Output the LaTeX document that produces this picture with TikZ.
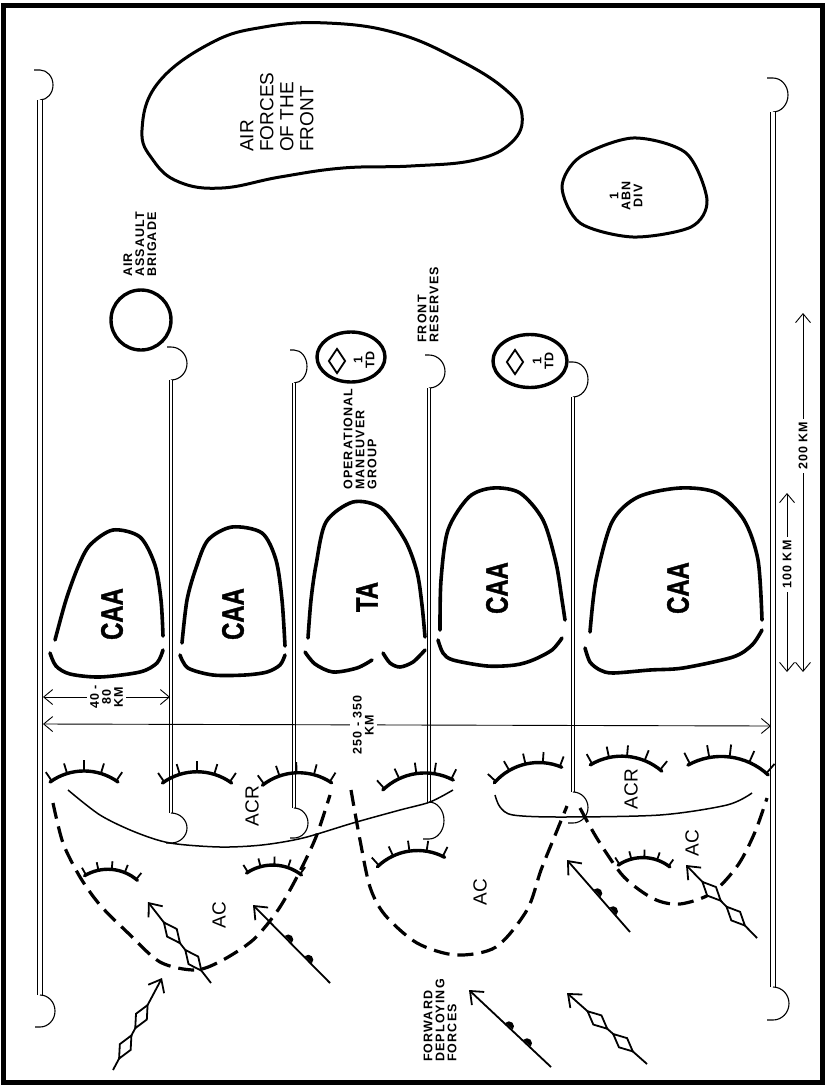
\documentclass[tikz,border=0pt]{standalone}
\usepackage{fontspec}
\setmainfont{Liberation Sans}
\newfontfamily\armyfont[FakeStretch=0.77,FakeBold=1.2]{Liberation Sans}
\newfontfamily\tagfont[LetterSpace=9]{Liberation Sans}
\usetikzlibrary{positioning}
\usetikzlibrary{arrows.meta}
\usetikzlibrary{shapes.geometric}

\begin{document}
\begin{tikzpicture}
  [x=1pt, y=-1pt,
   bound/.style={double, double distance=2.6pt, line width=0.9pt},
   edgebound/.style={double, double distance=3.6pt, line width=1pt},
   hook/.style={line width=1.1pt},
   army/.style={line width=3.6pt, line cap=round},
   acr/.style={line width=1.5pt},
   ac/.style={line width=3.2pt, dash pattern=on 16pt off 8pt},
   fwd/.style={line width=1.8pt, arrows={-Straight Barb[length=11pt,width=18pt]}},
   link/.style={draw, diamond, sloped, fill=white, minimum width=27pt, minimum height=13pt, inner sep=0pt, line width=1.8pt},
   ball/.style={semicircle, fill, sloped, anchor=chord center, inner sep=0pt, minimum width=10pt},
   dim/.style={line width=0.9pt, arrows={Straight Barb[length=9pt,width=15pt]-Straight Barb[length=9pt,width=15pt]}},
   ovl/.style={draw, ellipse, line width=3.4pt, inner sep=0pt},
   tdsym/.style={draw, diamond, line width=1.8pt, inner sep=0pt, minimum width=17pt, minimum height=25pt},
   armylabel/.style={font=\armyfont\bfseries\fontsize{31}{31}\selectfont, rotate=90, inner sep=0pt},
   big/.style={font=\fontsize{19}{20}\selectfont, rotate=90, inner sep=0pt},
   tag/.style={font=\tagfont\bfseries\fontsize{12.5}{12}\selectfont, rotate=90, inner sep=0pt},
   dimlabel/.style={tag, fill=white, align=center, inner sep=3pt},
   fort/.pic={
     \draw[line width=3.4pt, line cap=round] (-32.3,0) arc (234:306:55);
     \foreach \t in {236,253,270,287,304}
       \draw[line width=1.8pt] (0,44.5) ++(\t:55) -- ++(\t:10);
   }]
  \useasboundingbox (0,0) rectangle (827,1092);
  \draw[line width=5pt] (3,5) rectangle (822,1082);

  % front boundaries
  \draw[hook] (34,70) -- (40,70) arc (-90:90:13 and 15);
  \draw[edgebound] (40,100) -- (40,995);
  \draw[hook] (40,995) arc (-90:90:15 and 16) -- (35,1027);
  \draw[hook] (767,78) -- (773,78) arc (-90:90:15 and 17);
  \draw[edgebound] (773,112) -- (773,987);
  \draw[hook] (773,987) arc (-90:90:16 and 16.5) -- (767,1020);

  % army boundaries
  \draw[hook] (167,347) -- (171,347) arc (-90:90:16 and 16.5);
  \draw[bound] (171,380) -- (171,813);
  \draw[hook] (171,813) arc (-90:90:16 and 15) -- (166,843);
  \draw[hook] (290,350) -- (294,350) arc (-90:90:13 and 16.5);
  \draw[bound] (294,383) -- (294,808);
  \draw[hook] (294,808) arc (-90:90:14 and 15) -- (290,838);
  \draw[hook] (425,355) -- (429,355) arc (-90:90:16 and 16.5);
  \draw[bound] (429,388) -- (429,802);
  \draw[hook] (429,802) arc (-90:90:15 and 18.5) -- (423,839);
  \draw[hook] (569,362) -- (573,362) arc (-90:90:15 and 17.5);
  \draw[bound] (573,397) -- (573,792);
  \draw[hook] (573,792) arc (-90:90:15 and 15.5) -- (568,823);

  % air forces and airborne
  \draw[line width=3pt] plot[smooth cycle, tension=0.7] coordinates {(142,130) (158,83) (211,43) (264,27) (327,23) (396,33) (459,60) (506,90) (522,115) (512,142) (475,160) (411,166) (343,168) (280,177) (222,188) (179,182) (153,160)};
  \node[big, align=left, anchor=west] (airf) at (277,152) {AIR\\FORCES\\OF THE\\FRONT};
  \draw[line width=3pt] plot[smooth cycle] coordinates {(633,138) (580,157) (562,187) (580,223) (633,237) (691,227) (707,200) (686,153)};
  \node[tag, align=center] (abn) at (626,196) {1\\ABN\\DIV};
  \node[tag, align=left, anchor=west] (aab) at (140,277) {AIR\\ASSAULT\\BRIGADE};
  \node[ovl, minimum width=60pt, minimum height=60pt] (aabc) at (141,320) {};

  % reserves
  \node[ovl, minimum width=68pt, minimum height=50pt] (omg) at (351,357) {};
  \node[tdsym] (omgd) at (337,361) {};
  \node[tag, align=center] (omgt) at (364,360) {1\\TD};
  \node[tag, align=left, anchor=west] (omgl) at (360,490) {OPERATIONAL\\MANEUVER\\GROUP};
  \node[tag, align=left, anchor=west] (frl) at (428,343) {FRONT\\RESERVES};
  \node[ovl, minimum width=74pt, minimum height=53pt] (frr) at (530,361) {};
  \node[tdsym] (frrd) at (515,362) {};
  \node[tag, align=center] (frrt) at (543,361) {1\\TD};

  % armies
  \draw[army] plot[smooth] coordinates {(55,640) (66,600) (78,567) (90,545) (113,530) (140,537) (155,565) (161,600) (163,636)};
  \draw[army] plot[smooth] coordinates {(50,653) (56,666) (70,674) (100,677) (140,672) (157,663) (163,650)};
  \node[armylabel] (caa1) at (112,614) {CAA};
  \draw[army] plot[smooth] coordinates {(182,643) (187,600) (196,568) (208,540) (232,527) (262,533) (276,560) (282,600) (285,646)};
  \draw[army] plot[smooth] coordinates {(180,655) (188,668) (213,675) (245,675) (267,672) (280,665) (285,655)};
  \node[armylabel] (caa2) at (233,614) {CAA};
  \draw[army] plot[smooth] coordinates {(308,638) (311,600) (316,565) (326,522) (353,502) (381,508) (405,540) (417,572) (422,605) (425,637)};
  \draw[army] plot[smooth] coordinates {(305,652) (315,664) (333,672) (357,668) (372,660)};
  \draw[army] plot[smooth] coordinates {(383,653) (390,663) (400,667) (413,662) (425,650)};
  \node[armylabel] (ta) at (367,597) {TA};
  \draw[army] plot[smooth] coordinates {(440,630) (441,580) (448,530) (469,497) (493,488) (520,493) (543,520) (556,563) (562,600) (565,620)};
  \draw[army] plot[smooth] coordinates {(438,640) (443,653) (453,660) (487,666) (515,665) (533,660) (552,650) (562,638)};
  \node[armylabel] (caa3) at (497,588) {CAA};
  \draw[army] plot[smooth] coordinates {(590,632) (596,580) (612,522) (638,497) (680,488) (717,493) (744,520) (758,560) (762,620)};
  \draw[army] plot[smooth] coordinates {(585,648) (590,662) (600,670) (613,673) (650,670) (683,668) (733,657) (752,645) (762,630)};
  \node[armylabel] (caa4) at (678,588) {CAA};

  % widths
  \coordinate (w1l) at (43,697);
  \coordinate (w1r) at (170,697);
  \draw[dim] (w1l) -- (w1r) node[dimlabel, pos=0.5] (w1t) {40 -\\80\\KM};
  \coordinate (w2l) at (43,724);
  \coordinate (w2r) at (771,726);
  \draw[dim] (w2l) -- (w2r) node[dimlabel, pos=0.44] (w2t) {250 - 350\\KM};

  % scale
  \coordinate (s1t) at (787,493);
  \coordinate (s1b) at (787,672);
  \draw[dim] (s1b) -- (s1t) node[dimlabel, pos=0.6] (s1l) {100 KM};
  \coordinate (s2t) at (803,313);
  \coordinate (s2b) at (803,672);
  \draw[dim] (s2b) -- (s2t) node[dimlabel, pos=0.63] (s2l) {200 KM};

  % advanced covering forces
  \pic[scale=1.05] at (84,782) {fort};
  \pic[scale=1.07] at (197,783) {fort};
  \pic[scale=1.07, rotate=2] at (297,784) {fort};
  \pic[scale=1.1, rotate=8] at (418,785) {fort};
  \pic[scale=1.07, rotate=13] at (528,775) {fort};
  \pic[scale=1.11, rotate=-5] at (626,768) {fort};
  \pic[scale=1.25, rotate=-7] at (728,770) {fort};
  \pic[scale=0.82, rotate=-5] at (111,878) {fort};
  \pic[scale=0.85, rotate=-2] at (274,874) {fort};
  \pic[scale=1.05, rotate=8] at (411,862) {fort};
  \pic[scale=0.8, rotate=-2] at (644,866) {fort};

  \draw[acr] plot[smooth] coordinates {(68,790) (100,815) (135,832) (170,843) (220,847) (262,845) (303,838) (353,823) (400,810) (430,802) (453,790)};
  \draw[acr] plot[smooth] coordinates {(495,795) (500,807) (513,815) (560,817) (660,815) (727,805) (752,793)};
  \node[big] (acr1) at (252,806) {ACR};
  \node[big] (acr2) at (631,789) {ACR};

  \draw[ac] plot[smooth] coordinates {(53,803) (63,843) (80,877) (100,905) (127,932) (160,962) (195,970) (221,961) (253,940) (278,910) (298,875) (316,837) (330,795)};
  \draw[ac] plot[smooth] coordinates {(351,790) (360,840) (370,887) (385,915) (417,943) (456,955) (496,947) (527,910) (541,870) (556,833) (567,806)};
  \draw[ac] plot[smooth] coordinates {(580,808) (598,840) (624,877) (654,899) (680,904) (712,893) (738,865) (755,832) (767,798)};
  \node[big] (ac1) at (219,915) {AC};
  \node[big] (ac2) at (480,892) {AC};
  \node[big] (ac3) at (692,843) {AC};

  % forward deploying forces
  \coordinate (a1s) at (113,1070);
  \coordinate (a1e) at (162,978);
  \draw[fwd] (a1s) -- (a1e) node[link, pos=0.25] (a1d1) {} node[link, pos=0.58] (a1d2) {};
  \coordinate (a2s) at (211,983);
  \coordinate (a2e) at (148,902);
  \draw[fwd] (a2s) -- (a2e) node[link, pos=0.28] (a2d1) {} node[link, pos=0.62] (a2d2) {};
  \coordinate (a3s) at (330,983);
  \coordinate (a3e) at (253,905);
  \draw[fwd] (a3s) -- (a3e) node[ball, pos=0.29] (a3b1) {} node[ball, pos=0.55] (a3b2) {};
  \coordinate (a4s) at (551,1067);
  \coordinate (a4e) at (469,990);
  \draw[fwd] (a4s) -- (a4e) node[ball, pos=0.3] (a4b1) {} node[ball, pos=0.52] (a4b2) {};
  \coordinate (a5s) at (647,1064);
  \coordinate (a5e) at (567,993);
  \draw[fwd] (a5s) -- (a5e) node[link, pos=0.3] (a5d1) {} node[link, pos=0.62] (a5d2) {};
  \coordinate (a6s) at (630,932);
  \coordinate (a6e) at (567,860);
  \draw[fwd] (a6s) -- (a6e) node[ball, pos=0.28] (a6b1) {} node[ball, pos=0.53] (a6b2) {};
  \coordinate (a7s) at (757,938);
  \coordinate (a7e) at (686,865);
  \draw[fwd] (a7s) -- (a7e) node[link, pos=0.3] (a7d1) {} node[link, pos=0.64] (a7d2) {};
  \node[tag, align=left, anchor=west] (fdf) at (440,1062) {FORWARD\\DEPLOYING\\FORCES};
\end{tikzpicture}
\end{document}
